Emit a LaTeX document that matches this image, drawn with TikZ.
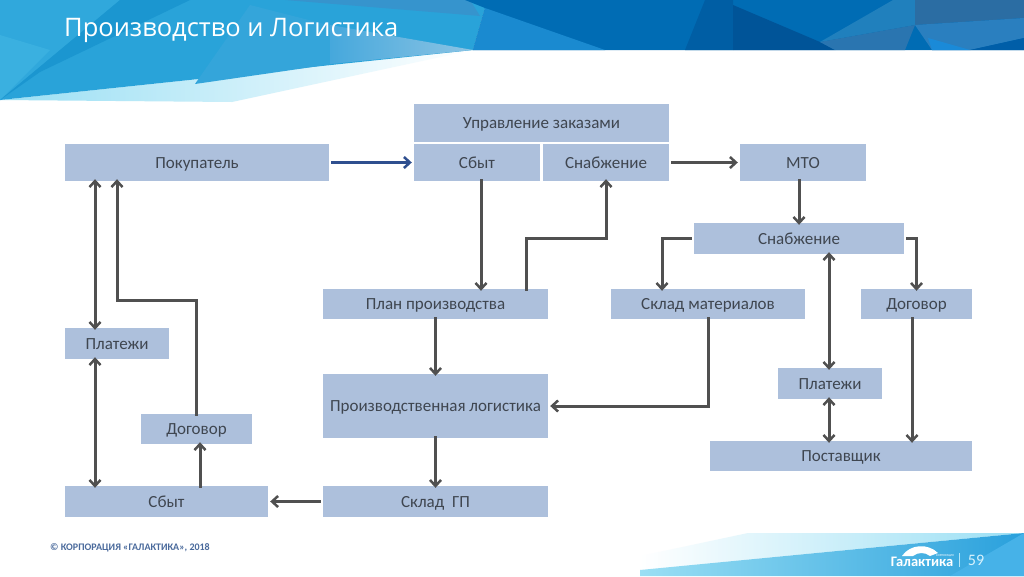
\documentclass[tikz,border=0pt]{standalone}
\usepackage{fontspec}
\setmainfont{Carlito}
\newfontfamily\titlefont{Open Sans}
\usetikzlibrary{arrows.meta}

\definecolor{boxblue}{HTML}{ADC0DC}
\definecolor{boxtext}{HTML}{3F4650}
\definecolor{arrowgray}{HTML}{505050}
\definecolor{arrowblue}{HTML}{2F4F8F}
\definecolor{footertext}{HTML}{4A6A9C}
\definecolor{paleband}{HTML}{9ADFF4}
\definecolor{midband}{HTML}{29A0DC}

\tikzset{
  blockbox/.style={fill=boxblue, text=boxtext, inner sep=0pt, text height=12pt, text depth=1pt, font=\fontsize{17}{20}\selectfont},
  arrowline/.style={draw=arrowgray, line width=3pt},
  facet/.style={draw=none}
}

\begin{document}
\begin{tikzpicture}[x=1pt,y=-1pt,>={Straight Barb[length=6pt,width=11pt,line width=2.5pt]}]

\useasboundingbox (0,0) rectangle (1024,576);
\fill[white] (0,0) rectangle (1024,576);

% Header band
\shade[left color=paleband,right color=white] (0,100) -- (232,102) -- (473,50) -- cycle;
\fill[facet,fill={rgb,255:red,41;green,163;blue,217}] (0,0) -- (490,0) -- (485,8) -- (473,50) -- (0,100) -- cycle;
\fill[facet,fill={rgb,255:red,48;green,168;blue,220}] (0,0) -- (120,0) -- (0,100) -- cycle;
\fill[facet,fill={rgb,255:red,58;green,176;blue,224}] (0,35) -- (50,50) -- (0,100) -- cycle;
\fill[facet,fill={rgb,255:red,27;green,150;blue,208}] (0,100) -- (120,0) -- (190,0) -- (40,72) -- cycle;
\fill[facet,fill={rgb,255:red,52;green,165;blue,218}] (250,5) -- (340,28) -- (340,63) -- (195,84) -- cycle;
\shade[left color={rgb,255:red,70;green,168;blue,220},right color={rgb,255:red,140;green,196;blue,228}] (330,25) -- (473,50) -- (330,64) -- cycle;
\fill[facet,fill={rgb,255:red,54;green,148;blue,205}] (285,0) -- (470,0) -- (480,16) -- cycle;
\fill[facet,fill={rgb,255:red,0;green,108;blue,180}] (465,0) -- (1024,0) -- (1024,50) -- (473,50) -- (485,8) -- cycle;
\fill[facet,fill={rgb,255:red,26;green,138;blue,208}] (485,8) -- (473,50) -- (605,50) -- cycle;
\fill[facet,fill={rgb,255:red,0;green,94;blue,164}] (705,0) -- (733,0) -- (733,50) -- (685,50) -- cycle;
\fill[facet,fill={rgb,255:red,0;green,84;blue,152}] (733,5) -- (820,42) -- (835,50) -- (733,50) -- cycle;
\fill[facet,fill={rgb,255:red,32;green,128;blue,189}] (893,0) -- (915,0) -- (915,25) -- (820,42) -- cycle;
\fill[facet,fill={rgb,255:red,43;green,109;blue,163}] (915,0) -- (1024,0) -- (1024,18) -- (915,25) -- cycle;
\fill[facet,fill={rgb,255:red,42;green,117;blue,176}] (820,42) -- (915,25) -- (905,50) -- (835,50) -- cycle;
\fill[facet,fill={rgb,255:red,42;green,127;blue,191}] (915,25) -- (1024,18) -- (1024,38) -- (970,50) -- (932,50) -- cycle;
\fill[facet,fill={rgb,255:red,26;green,138;blue,216}] (928,38) -- (970,50) -- (932,50) -- cycle;
\fill[facet,fill={rgb,255:red,0;green,94;blue,168}] (970,50) -- (1024,38) -- (1024,50) -- cycle;

% Footer band
\shade[left color=white,right color=paleband] (640,556) -- (748,533) -- (1024,533) -- (640,570) -- cycle;
\shade[left color=paleband,middle color=midband,right color=midband] (640,570) -- (1024,533) -- (1024,576) -- (640,576) -- cycle;
\fill[facet,fill={rgb,255:red,70;green,178;blue,232}] (950,576) -- (1024,533) -- (1024,576) -- cycle;

% Title and footer text
\node[text=white,font=\titlefont\fontsize{25.5}{30}\selectfont,anchor=west,inner sep=0pt] (title) at (64,30) {Производство и Логистика};
\node[text=footertext,font=\bfseries\fontsize{10}{12}\selectfont,anchor=west,inner sep=0pt] (copyright) at (50,548) {© КОРПОРАЦИЯ «ГАЛАКТИКА», 2018};
\node[text=white,font=\bfseries\fontsize{14.5}{16}\selectfont,inner sep=0pt,text height=8pt,text depth=0pt] (logo) at (922,562) {Галактика};
\node[text=white,font=\fontsize{3}{4}\selectfont,inner sep=0pt,text height=2pt,text depth=0pt] (logosmall) at (945,555) {КОРПОРАЦИЯ};
\node[text=white!85!cyan,font=\fontsize{16}{18}\selectfont,inner sep=0pt] (pagenum) at (976,560) {59};
\draw[white!70!cyan,line width=0.6pt] (959,553) -- (959,567);
\fill[white] (902,556) .. controls (910,544) and (928,543) .. (938,553) -- (930,556) .. controls (925,552) and (918,552) .. (913,556) -- cycle;

% Blocks
\node[blockbox,minimum width=264pt,minimum height=37pt] (buyer) at (197,162.5) {Покупатель};
\node[blockbox,minimum width=255pt,minimum height=38pt] (orders) at (541.5,123) {Управление заказами};
\node[blockbox,minimum width=126pt,minimum height=37pt] (sales) at (477,162.5) {Сбыт};
\node[blockbox,minimum width=126pt,minimum height=37pt] (supply) at (606,162.5) {Снабжение};
\node[blockbox,minimum width=126pt,minimum height=37pt] (mto) at (803,162.5) {МТО};
\node[blockbox,minimum width=210pt,minimum height=31pt] (supplytwo) at (799,238.5) {Снабжение};
\node[blockbox,minimum width=225pt,minimum height=30pt] (plan) at (435.5,304) {План производства};
\node[blockbox,minimum width=194pt,minimum height=30pt] (stock) at (708,304) {Склад материалов};
\node[blockbox,minimum width=111pt,minimum height=30pt] (contractr) at (916.5,304) {Договор};
\node[blockbox,minimum width=104pt,minimum height=31pt] (payl) at (117,343.5) {Платежи};
\node[blockbox,minimum width=104pt,minimum height=31pt] (payr) at (830,383.5) {Платежи};
\node[blockbox,minimum width=225pt,minimum height=64pt] (logist) at (435.5,406) {Производственная логистика};
\node[blockbox,minimum width=111pt,minimum height=30pt] (contractl) at (196.5,429) {Договор};
\node[blockbox,minimum width=262pt,minimum height=30pt] (vendor) at (841,456) {Поставщик};
\node[blockbox,minimum width=203pt,minimum height=31pt] (salesl) at (166.5,501.5) {Сбыт};
\node[blockbox,minimum width=225pt,minimum height=31pt] (goods) at (435.5,501.5) {Склад ~ГП};

% Helper points on block edges
\coordinate (buyerA) at ([xshift=-102pt,yshift=2pt]buyer.south);
\coordinate (buyerB) at ([xshift=-80pt,yshift=2pt]buyer.south);
\coordinate (salesB) at ([xshift=4pt,yshift=2pt]sales.south);
\coordinate (supplyB) at ([yshift=2pt]supply.south);
\coordinate (planT) at ([xshift=90.5pt,yshift=-2pt]plan.north);

% Top row
\draw[->,draw=arrowblue,line width=3pt] ([xshift=2pt]buyer.east) -- ([xshift=-2pt]sales.west);
\draw[->,arrowline] ([xshift=2pt]supply.east) -- ([xshift=-2pt]mto.west);
\draw[->,arrowline] ([xshift=-4pt,yshift=2pt]mto.south) -- ([yshift=-2pt]supplytwo.north);

% Middle column
\draw[->,arrowline] (salesB) -- ([yshift=-2pt]salesB |- plan.north);
\draw[->,arrowline] (planT) -- ++(0,-52) -| (supplyB);
\draw[->,arrowline] ([yshift=2pt]plan.south) -- ([yshift=-2pt]logist.north);
\draw[->,arrowline] ([yshift=2pt]logist.south) -- ([yshift=-2pt]goods.north);
\draw[->,arrowline] ([xshift=-2pt]goods.west) -- ([xshift=2pt]goods.west -| salesl.east);

% Left column
\draw[<->,arrowline] (buyerA) -- ([yshift=-2pt]buyerA |- payl.north);
\draw[<->,arrowline] ([xshift=-22pt,yshift=2pt]payl.south) -- ([xshift=-22pt,yshift=-2pt]payl.south |- salesl.north);
\draw[->,arrowline] ([xshift=33.5pt,yshift=-2pt]salesl.north) -- ([xshift=33.5pt,yshift=2pt]salesl.north |- contractl.south);
\draw[->,arrowline] ([yshift=-2pt]contractl.north) -- ++(0,-115) -| (buyerB);

% Right column
\draw[->,arrowline] ([xshift=-2pt]supplytwo.west) -| ([xshift=-46pt,yshift=-2pt]stock.north);
\draw[->,arrowline] ([xshift=2pt]supplytwo.east) -| ([yshift=-2pt]contractr.north);
\draw[<->,arrowline] ([xshift=30pt,yshift=2pt]supplytwo.south) -- ([xshift=-1pt,yshift=-2pt]payr.north);
\draw[<->,arrowline] ([xshift=-1pt,yshift=2pt]payr.south) -- ([xshift=-1pt,yshift=-2pt]payr.south |- vendor.north);
\draw[->,arrowline] ([xshift=-4.5pt,yshift=2pt]contractr.south) -- ([xshift=-4.5pt,yshift=-2pt]contractr.south |- vendor.north);
\draw[->,arrowline] ([yshift=2pt]stock.south) |- ([xshift=2pt]logist.east);

\end{tikzpicture}
\end{document}
